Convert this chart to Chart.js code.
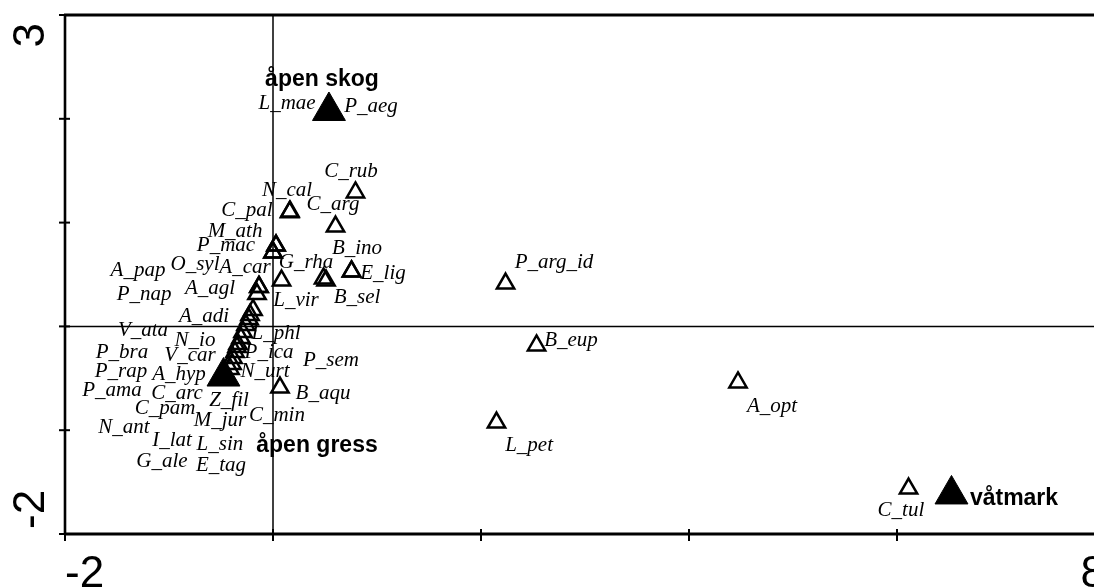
<!DOCTYPE html>
<html><head><meta charset="utf-8">
<script src="https://cdn.jsdelivr.net/npm/chart.js@4.4.1/dist/chart.umd.min.js"></script>
<style>
html,body{margin:0;padding:0;background:#fff;overflow:hidden;}
#wrap{width:1094px;height:587px;overflow:hidden;position:relative;background:#fff;}
canvas{display:block;}
</style></head><body>
<div id="wrap"><canvas id="c" width="1110" height="587"></canvas></div>
<script>
// ---- species (open triangles) ----
const speciesNames = ['C_rub','N_cal','C_pal','C_arg','B_ino','M_ath','P_mac','O_syl','A_car','G_rha','B_sel','E_lig','L_vir',
  'P_arg_id','B_eup','A_opt','L_pet','B_aqu','C_tul','L_mae','P_aeg',
  'A_agl','A_pap','P_nap','A_adi','V_ata','N_io','L_phl','P_bra','V_car','P_ica','P_rap','A_hyp','N_urt','P_ama','C_arc',
  'Z_fil','C_pam','M_jur','C_min','N_ant','I_lat','L_sin','G_ale','E_tag','P_sem'];
const speciesX = [0.793,0.163,0.160,0.601,0.755,0.029,0.000,0.000,0.029,0.486,0.510,0.755,0.082,
  2.236,2.534,4.471,2.149,0.067,6.111,0.535,0.545,
  -0.135,-0.135,-0.154,-0.192,-0.221,-0.231,-0.260,-0.288,-0.308,-0.337,-0.346,-0.365,-0.385,-0.394,-0.413,
  -0.470,-0.480,-0.465,-0.460,-0.485,-0.475,-0.470,-0.480,-0.465,-0.470];
const speciesY = [1.290,1.107,1.100,0.962,0.529,0.779,0.712,0.712,0.779,0.461,0.442,0.529,0.442,
  0.413,-0.184,-0.540,-0.926,-0.589,-1.562,2.070,2.080,
  0.380,0.380,0.312,0.158,0.110,0.071,0.013,-0.054,-0.112,-0.170,-0.199,-0.247,-0.304,-0.362,-0.410,
  -0.480,-0.485,-0.475,-0.478,-0.490,-0.470,-0.490,-0.480,-0.485,-0.475];
// label anchor (centre of text) in data units
const labelX = [0.750,0.135,-0.250,0.577,0.808,-0.365,-0.452,-0.750,-0.269,0.317,0.808,1.058,0.221,
  2.702,2.865,4.798,2.462,0.481,6.038,0.135,0.942,
  -0.606,-1.298,-1.240,-0.663,-1.250,-0.750,0.029,-1.452,-0.798,-0.038,-1.462,-0.904,-0.077,-1.548,-0.923,
  -0.423,-1.038,-0.510,0.038,-1.433,-0.971,-0.510,-1.067,-0.500,0.558];
const labelY = [1.497,1.314,1.112,1.179,0.746,0.919,0.784,0.601,0.563,0.611,0.274,0.505,0.254,
  0.620,-0.131,-0.767,-1.152,-0.642,-1.769,2.152,2.114,
  0.370,0.543,0.312,0.100,-0.035,-0.131,-0.064,-0.256,-0.285,-0.256,-0.430,-0.468,-0.430,-0.622,-0.651,
  -0.709,-0.786,-0.902,-0.863,-0.978,-1.103,-1.142,-1.306,-1.344,-0.333];

// ---- environment classes (filled triangles) ----
const envNames = ['åpen skog','åpen gress','våtmark'];
const envX = [0.538,-0.476,6.524];
const envY = [2.075,-0.483,-1.619];
const envLabelX = [0.471,0.423,7.125];
const envLabelY = [2.374,-1.152,-1.663];

// ---- axes ----
const xRange = [-2, 8];
const yRange = [-2, 3];
const xTickMarks = [-2,0,2,4,6,8];
const yTickMarks = [-2,-1,0,1,2,3];
const xTickLabels = ['-2','8'];
const yTickLabels = ['-2','3'];

const envData = envX.map((v,i)=>({x:v,y:envY[i]}));
const spData = speciesX.map((v,i)=>({x:v,y:speciesY[i]}));

function seg(ctx,x1,y1,x2,y2){ctx.beginPath();ctx.moveTo(x1,y1);ctx.lineTo(x2,y2);ctx.stroke();}

const framePlugin = {
  id:'frame',
  beforeDatasetsDraw(chart){
    const {ctx, chartArea:a, scales:{x,y}} = chart;
    ctx.save();
    ctx.strokeStyle='#000'; ctx.lineCap='butt';
    const x0=x.getPixelForValue(0), y0=y.getPixelForValue(0);
    ctx.lineWidth=1.5;
    seg(ctx,x0,a.top,x0,a.bottom);
    seg(ctx,a.left,y0,a.right,y0);
    ctx.lineWidth=3.2;
    seg(ctx,a.left-1,a.top,a.right,a.top);
    seg(ctx,a.left-1,a.bottom,a.right,a.bottom);
    ctx.lineWidth=2.6;
    seg(ctx,a.left,a.top,a.left,a.bottom);
    ctx.lineWidth=2;
    xTickMarks.forEach(v=>{const p=x.getPixelForValue(v); seg(ctx,p,a.bottom-5,p,a.bottom+7);});
    yTickMarks.forEach(v=>{const p=y.getPixelForValue(v); seg(ctx,a.left-6,p,a.left+5,p);});
    // tick labels
    ctx.fillStyle='#000';
    ctx.font="44px 'Liberation Sans', Arial, sans-serif";
    ctx.textBaseline='alphabetic';
    const xl=x.getPixelForValue(xRange[0]), xr=x.getPixelForValue(xRange[1]);
    ctx.textAlign='left'; ctx.fillText(xTickLabels[0], xl, 587);
    ctx.textAlign='right'; ctx.fillText(xTickLabels[1], xr, 587);
    const yb=y.getPixelForValue(yRange[0]), yt=y.getPixelForValue(yRange[1]);
    ctx.save(); ctx.translate(43.5, yb-5); ctx.rotate(-Math.PI/2);
    ctx.textAlign='left'; ctx.fillText(yTickLabels[0],0,0); ctx.restore();
    ctx.save(); ctx.translate(43.5, yt+8); ctx.rotate(-Math.PI/2);
    ctx.textAlign='right'; ctx.fillText(yTickLabels[1],0,0); ctx.restore();
    ctx.restore();
  },
  afterDatasetsDraw(chart){
    const {ctx, scales:{x,y}} = chart;
    ctx.save();
    ctx.fillStyle='#000';
    ctx.textAlign='center'; ctx.textBaseline='middle';
    ctx.font="italic 21px 'Liberation Serif', 'Times New Roman', serif";
    speciesNames.forEach((n,i)=>{
      ctx.fillText(n, x.getPixelForValue(labelX[i]), y.getPixelForValue(labelY[i]));
    });
    ctx.font="bold 23px 'Liberation Sans', Arial, sans-serif";
    envNames.forEach((n,i)=>{
      ctx.fillText(n, x.getPixelForValue(envLabelX[i]), y.getPixelForValue(envLabelY[i]));
    });
    ctx.restore();
  }
};

new Chart(document.getElementById('c'), {
  type:'scatter',
  data:{datasets:[
    {label:'miljø', data:envData, pointStyle:'triangle', pointRadius:19, pointHoverRadius:19,
     backgroundColor:'#000', borderColor:'#000', borderWidth:1, clip:false},
    {label:'arter', data:spData, pointStyle:'triangle', pointRadius:10, pointHoverRadius:10,
     backgroundColor:'rgba(0,0,0,0)', borderColor:'#000', borderWidth:2.5, clip:false}
  ]},
  options:{
    responsive:false, animation:false, events:[],
    layout:{autoPadding:false, padding:{left:65, top:15, right:5, bottom:53}},
    plugins:{legend:{display:false}, tooltip:{enabled:false}},
    scales:{
      x:{type:'linear', min:xRange[0], max:xRange[1], display:false},
      y:{type:'linear', min:yRange[0], max:yRange[1], display:false}
    }
  },
  plugins:[framePlugin]
});
</script>
</body></html>
